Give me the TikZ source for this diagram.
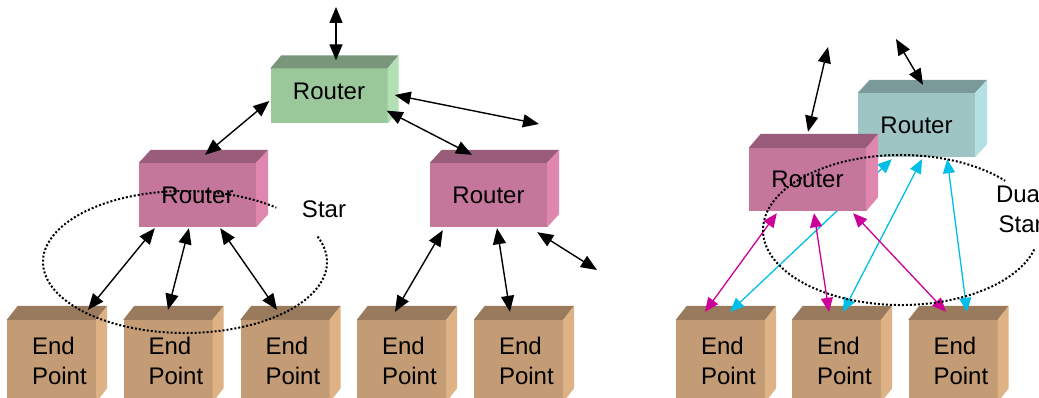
\documentclass[tikz,border=0pt]{standalone}
\usepackage{fontspec}
\setmainfont{Liberation Sans}
\usetikzlibrary{arrows.meta,calc}

\definecolor{greenfront}{HTML}{9BC89B}
\definecolor{greentop}{HTML}{7A967A}
\definecolor{greenside}{HTML}{B3E0B3}
\definecolor{pinkfront}{HTML}{C4769B}
\definecolor{pinktop}{HTML}{995C7A}
\definecolor{pinkside}{HTML}{E087B0}
\definecolor{tealfront}{HTML}{9EC4C4}
\definecolor{tealtop}{HTML}{7A9999}
\definecolor{tealside}{HTML}{B3E0E0}
\definecolor{tanfront}{HTML}{C39B75}
\definecolor{tantop}{HTML}{997A5C}
\definecolor{tanside}{HTML}{DEB285}
\definecolor{linkmag}{HTML}{CC0099}
\definecolor{linkcyan}{HTML}{00BFE6}

% top and side faces of a box node: name, top colour, side colour, depth
\newcommand{\boxfaces}[4]{%
	\fill[#2] (#1.north west) -- (#1.north east) -- ++(#4) -- ($(#1.north west)+(#4)$) -- cycle;
	\fill[#3] (#1.north east) -- (#1.south east) -- ++(#4) -- ($(#1.north east)+(#4)$) -- cycle;
}

\begin{document}
\begin{tikzpicture}[x=1pt, y=-1pt, >={Triangle[length=16pt,width=13pt]},
	font=\fontsize{24}{30}\selectfont,
	router/.style={rectangle, inner sep=0pt, minimum width=117pt, minimum height=64pt},
	endpt/.style={rectangle, fill=tanfront, inner sep=0pt, minimum width=89pt, minimum height=82pt,
		text width=39pt, align=left, execute at begin node={\hyphenpenalty=10000}},
	link/.style={<->, line width=1.4pt},
	maglink/.style={<->, line width=1.3pt, draw=linkmag, >={Triangle[length=14pt,width=12pt]}},
	cyanlink/.style={<->, line width=1.3pt, draw=linkcyan, >={Triangle[length=14pt,width=12pt]}},
	dotring/.style={line width=2pt, dash pattern=on 2pt off 2pt}]
	\useasboundingbox (0,0) rectangle (1039,398);
	\clip (0,0) rectangle (1039,398);

	% end points
	\node[endpt] (ep1) at (51.5,361) {End\\Point};
	\node[endpt] (ep2) at (168,361) {End\\Point};
	\node[endpt] (ep3) at (285,361) {End\\Point};
	\node[endpt] (ep4) at (401.5,361) {End\\Point};
	\node[endpt] (ep5) at (518.5,361) {End\\Point};
	\node[endpt] (dp1) at (720.5,361) {End\\Point};
	\node[endpt] (dp2) at (836.5,361) {End\\Point};
	\node[endpt] (dp3) at (953,361) {End\\Point};
	\foreach \n in {ep1,ep2,ep3,ep4,ep5,dp1,dp2,dp3}
		\boxfaces{\n}{tantop}{tanside}{11,-14};

	% star
	\node[router, fill=greenfront, minimum height=55pt, text depth=9pt] (rtop) at (329,96) {Router};
	\boxfaces{rtop}{greentop}{greenside}{11,-13}
	\node[router, fill=pinkfront] (rleft) at (197.5,195) {Router};
	\boxfaces{rleft}{pinktop}{pinkside}{12,-13}
	\node[router, fill=pinkfront] (rright) at (488.5,195) {Router};
	\boxfaces{rright}{pinktop}{pinkside}{12,-13}

	\coordinate (upA) at (336,7);
	\coordinate (outA) at (539,124);
	\coordinate (outB) at (597,270);
	\draw[link] ($(rtop.north)+(7,-8)$) -- (upA);
	\draw[link] ($(rtop.east)+(7,-1)$) -- (outA);
	\draw[link] ($(rtop.south east)+(-1,-13)$) -- ($(rright.north)+(-16.5,-8)$);
	\draw[link] ($(rtop.west)+(-1,5)$) -- ($(rleft.north)+(7.5,-8)$);
	\draw[link] ($(rleft.south west)+(16,1)$) -- ($(ep1.north)+(36.5,-10)$);
	\draw[link] ($(rleft.south)+(-8.5,1)$) -- ($(ep2.north)+(0,-10)$);
	\draw[link] ($(rleft.south east)+(-36,1)$) -- ($(ep3.north)+(-8,-10)$);
	\draw[link] ($(rright.south west)+(13,3)$) -- ($(ep4.north)+(-6.5,-8)$);
	\draw[link] ($(rright.south)+(8.5,1)$) -- ($(ep5.north)+(-8.5,-8)$);
	\draw[link] ($(rright.south east)+(-10,5)$) -- (outB);

	\draw[dotring] (185,262) ++(-21:142 and 71) arc[start angle=-21, end angle=310, x radius=142, y radius=71];
	\node (star) at (324,209) {Star};

	% dual star
	\node[router, fill=tealfront] (rteal) at (916.5,125) {Router};
	\boxfaces{rteal}{tealtop}{tealside}{12,-13}
	\draw[cyanlink] ($(rteal.south west)+(34,2)$) -- ($(dp1.north)+(9.5,-8)$);
	\draw[cyanlink] ($(rteal.south)+(5.5,2)$) -- ($(dp2.north)+(6.5,-8)$);
	\draw[cyanlink] ($(rteal.south east)+(-28,2)$) -- ($(dp3.north)+(14,-8)$);
	\node[router, fill=pinkfront, minimum height=63pt] (rpink) at (807.5,179.5) {Router};
	\boxfaces{rpink}{pinktop}{pinkside}{12,-14}
	\draw[maglink] ($(rpink.south west)+(28,2)$) -- ($(dp1.north)+(-15.5,-8)$);
	\draw[maglink] ($(rpink.south)+(6.5,2)$) -- ($(dp2.north)+(-7.5,-8)$);
	\draw[maglink] ($(rpink.south east)+(-13,2)$) -- ($(dp3.north)+(-7,-8)$);

	\coordinate (upB) at (828,47);
	\coordinate (upC) at (896,39);
	\draw[link] ($(rpink.north)+(0.5,-16)$) -- (upB);
	\draw[link] ($(rteal.north)+(6.5,-8)$) -- (upC);

	\draw[dotring] (901,230) ++(15:138 and 75) arc[start angle=15, end angle=319, x radius=138, y radius=75];
	\node[align=center] (dual) at (1020.7,208.5) {Dual\\Star};
\end{tikzpicture}
\end{document}
